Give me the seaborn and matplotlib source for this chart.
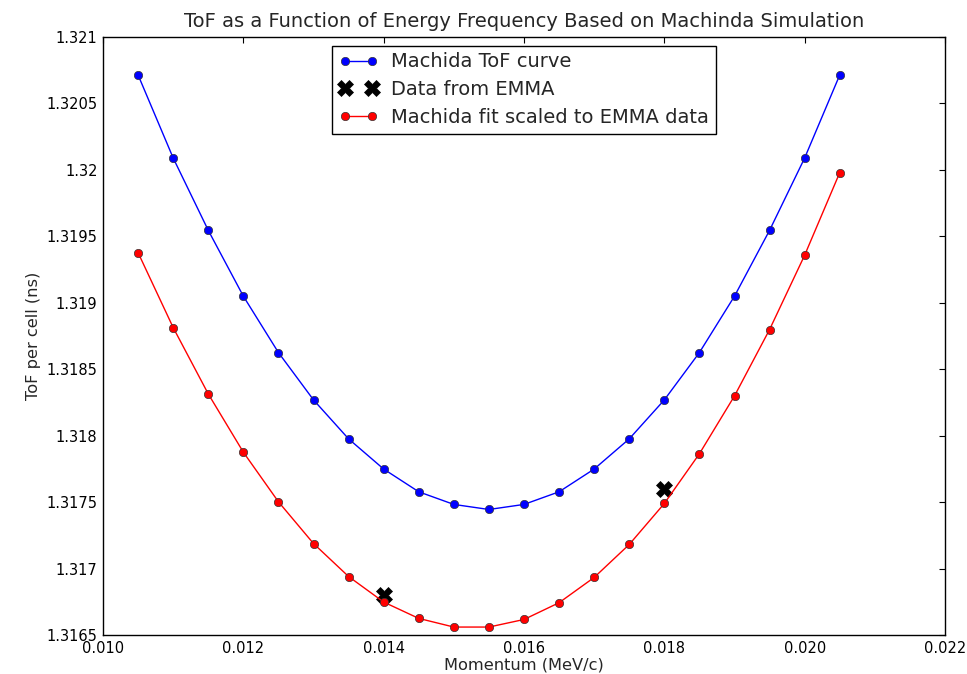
import numpy as np
import pandas as pd
import matplotlib
matplotlib.use("Agg")
import matplotlib.pyplot as plt
import seaborn as sns
from matplotlib.ticker import FuncFormatter, MultipleLocator

momentum = [0.0105, 0.0110, 0.0115, 0.0120, 0.0125, 0.0130, 0.0135, 0.0140, 0.0145, 0.0150, 0.0155,
            0.0160, 0.0165, 0.0170, 0.0175, 0.0180, 0.0185, 0.0190, 0.0195, 0.0200, 0.0205]
tof_machida = [1.320713, 1.320089, 1.319545, 1.319050, 1.318626, 1.318270, 1.317977, 1.317750,
               1.317579, 1.317484, 1.317446, 1.317484, 1.317579, 1.317750, 1.317977, 1.318270,
               1.318626, 1.319050, 1.319545, 1.320089, 1.320713]
tof_scaled = [1.319377, 1.318814, 1.318315, 1.317877, 1.317504, 1.317190, 1.316942, 1.316750,
              1.316627, 1.316562, 1.316562, 1.316619, 1.316745, 1.316935, 1.317183, 1.317491,
              1.317865, 1.318300, 1.318799, 1.319358, 1.319979]
emma_momentum = [0.014, 0.018]
emma_tof = [1.3168, 1.3176]

sns.set_style("white")
plt.rcParams['font.family'] = ['DejaVu Sans']

fig = plt.figure(figsize=(9.67, 6.74), dpi=100)
ax = fig.add_axes([103/967, 1 - 635.3/674, (945-103)/967, (635.3-36.8)/674])

df = pd.DataFrame({"momentum": momentum, "machida": tof_machida, "scaled": tof_scaled})
emma = pd.DataFrame({"momentum": emma_momentum, "tof": emma_tof})

sns.lineplot(data=df, x="momentum", y="machida", ax=ax, color="#0000ff", marker="o",
             markersize=6, markeredgecolor="#333333", markeredgewidth=0.5, linewidth=1,
             label="Machida ToF curve")
sns.lineplot(data=emma, x="momentum", y="tof", ax=ax, color="black", marker="X",
             markersize=11, linestyle="none", markeredgewidth=0.5, markeredgecolor="black",
             label="Data from EMMA")
sns.lineplot(data=df, x="momentum", y="scaled", ax=ax, color="#ff0000", marker="o",
             markersize=6, markeredgecolor="#333333", markeredgewidth=0.5, linewidth=1,
             label="Machida fit scaled to EMMA data")

ax.set_xlim(0.010, 0.022)
ax.set_ylim(1.3165, 1.321)
ax.xaxis.set_major_locator(MultipleLocator(0.002))
ax.yaxis.set_major_locator(MultipleLocator(0.0005))
ax.xaxis.set_major_formatter(FuncFormatter(lambda v, p: f"{v:.3f}"))
ax.yaxis.set_major_formatter(FuncFormatter(lambda v, p: f"{v:.4f}".rstrip('0')))
ax.tick_params(direction="in", length=4, width=0.8, top=True, right=True,
               labelsize=10.5, pad=4, colors="black")
for s in ax.spines.values():
    s.set_color("black")
    s.set_linewidth(1)

ax.set_xlabel("Momentum (MeV/c)", fontsize=11.7, labelpad=1)
ax.set_ylabel("ToF per cell (ns)", fontsize=11.7, labelpad=4)
ax.set_title("ToF as a Function of Energy Frequency Based on Machinda Simulation", fontsize=14, pad=7)

leg = ax.legend(loc="upper center", numpoints=2, fontsize=14, frameon=True, fancybox=False,
                edgecolor="black", framealpha=1, borderpad=0.35, labelspacing=0.45,
                handlelength=2.0, handletextpad=0.65, borderaxespad=0.45)
leg.get_frame().set_linewidth(1)

fig.savefig("out.png", dpi=100)
